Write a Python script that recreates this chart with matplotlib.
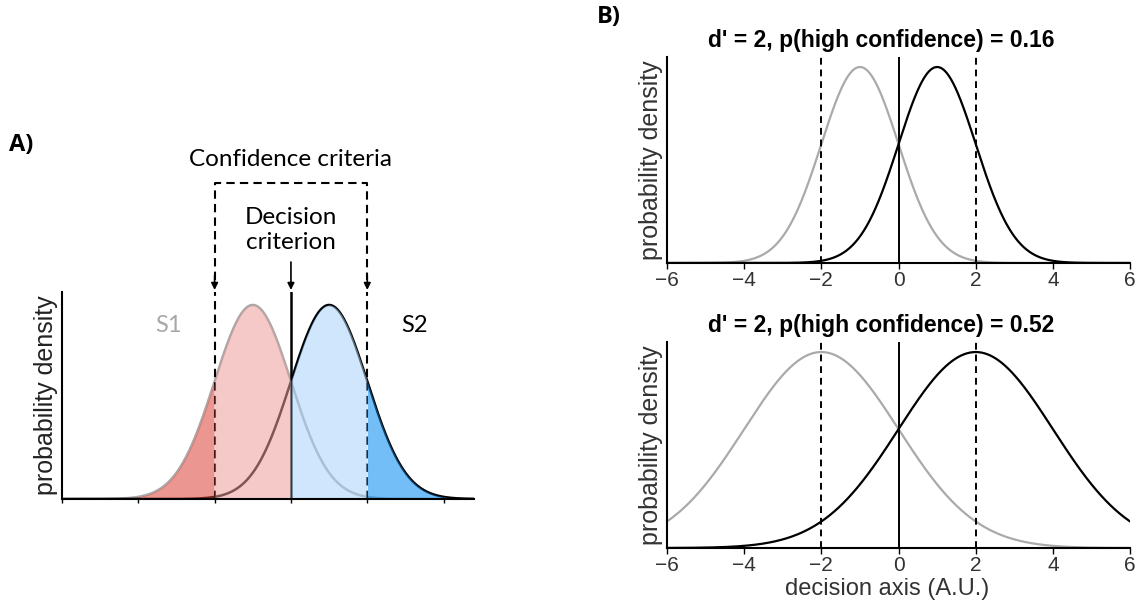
import matplotlib.pyplot as plt
import numpy as np

# panel A: schematic with one decision criterion and two confidence criteria
a_means = [-0.5, 0.5]
a_sd = 0.5
a_decision = 0.0
a_conf = [-1.0, 1.0]
a_ticks = [-3, -2, -1, 0, 1, 2]
a_labels = ["S1", "S2"]

# panel B: same d', different noise -> different p(high confidence)
b_means = [[-1, 1], [-2, 2]]
b_sds = [1, 2]
b_conf = [-2, 2]
b_phigh = [0.16, 0.52]
b_ticks = [-6, -4, -2, 0, 2, 4, 6]


def gauss(x, m, s):
    return np.exp(-0.5 * ((x - m) / s) ** 2) / (s * np.sqrt(2 * np.pi))


plt.rcParams['font.family'] = ['Liberation Sans', 'DejaVu Sans']
fig = plt.figure(figsize=(11.45, 6.04), dpi=100)

# ---------- A ----------
axA = fig.add_axes([0.0541, 0.1738, 0.360, 0.3427])
x = np.linspace(-3, 2.4, 800)
s1 = gauss(x, a_means[0], a_sd)
s2 = gauss(x, a_means[1], a_sd)

axA.plot(x, s1, color='#a8a8a8', lw=1.8, zorder=1)
axA.plot(x, s2, color='black', lw=1.8, zorder=1)
axA.plot([a_decision, a_decision], [0, 1], color='black', lw=1.8,
         transform=axA.get_xaxis_transform(), zorder=1)
for c in a_conf:
    axA.plot([c, c], [0, 1], color='black', lw=1.5, ls=(0, (4, 2.5)),
             transform=axA.get_xaxis_transform(), zorder=1)

fa = 0.55
axA.fill_between(x, 0, s1, where=x <= a_conf[0], color='#db4037', alpha=fa, lw=0, zorder=2)
axA.fill_between(x, 0, s1, where=(x >= a_conf[0]) & (x <= a_decision),
                 color='#eb9d99', alpha=fa, lw=0, zorder=2)
axA.fill_between(x, 0, s2, where=(x >= a_decision) & (x <= a_conf[1]),
                 color='#aad3fa', alpha=fa, lw=0, zorder=2)
axA.fill_between(x, 0, s2, where=x >= a_conf[1], color='#0089f2', alpha=fa, lw=0, zorder=2)

axA.set_xlim(-3, 2.4)
axA.set_ylim(0, 0.851)
axA.set_xticks(a_ticks)
axA.set_xticklabels([])
axA.set_yticks([])
axA.tick_params(axis='x', direction='out', length=3, width=1)
for sp in ['top', 'right']:
    axA.spines[sp].set_visible(False)
for sp in ['left', 'bottom']:
    axA.spines[sp].set_linewidth(1.5)
axA.set_ylabel('probability density', fontsize=18, color='#222222', labelpad=3)

lab_font = ['Lato', 'DejaVu Sans']
tr = axA.get_xaxis_transform()
axA.text(-1.6, 0.84, a_labels[0], color='#a8a8a8', fontsize=17, family=lab_font,
         ha='center', va='center', transform=tr)
axA.text(1.62, 0.84, a_labels[1], color='black', fontsize=17, family=lab_font,
         ha='center', va='center', transform=tr)

# annotation bracket above the axes
ytop = 1.527
axA.plot([a_conf[0], a_conf[0], a_conf[1], a_conf[1]], [1.06, ytop, ytop, 1.06],
         color='black', lw=1.5, ls=(0, (4, 2.5)), transform=tr, clip_on=False)
for c in a_conf:
    axA.annotate('', xy=(c, 1.01), xytext=(c, 1.08), xycoords=tr, textcoords=tr,
                 arrowprops=dict(arrowstyle='-|>', color='black', lw=1.2,
                                 mutation_scale=10, shrinkA=0, shrinkB=0))
axA.annotate('', xy=(a_decision, 1.01), xytext=(a_decision, 1.145), xycoords=tr,
             textcoords=tr, arrowprops=dict(arrowstyle='-|>', color='black', lw=1.2,
                                            mutation_scale=10, shrinkA=0, shrinkB=0))
axA.text(a_decision, 1.64, 'Confidence criteria', fontsize=17.5, family=lab_font,
         ha='center', va='center', transform=tr)
axA.text(a_decision, 1.30, 'Decision\ncriterion', fontsize=17.5, family=lab_font,
         ha='center', va='center', linespacing=1.25, transform=tr)

fig.text(0.008, 0.76, 'A)', fontsize=17, fontweight='bold', family=['Open Sans', 'DejaVu Sans'],
         va='center', ha='left')
fig.text(0.521, 0.972, 'B)', fontsize=17, fontweight='bold', family=['Open Sans', 'DejaVu Sans'],
         va='center', ha='left')

# ---------- B ----------
xb = np.linspace(-6, 6, 800)
for i, bottom in enumerate([0.5646, 0.0927]):
    ax = fig.add_axes([0.5825, bottom, 0.4045, 0.341])
    sd = b_sds[i]
    ax.plot(xb, gauss(xb, b_means[i][0], sd), color='#aaaaaa', lw=1.6)
    ax.plot(xb, gauss(xb, b_means[i][1], sd), color='black', lw=1.6)
    ax.axvline(0, color='black', lw=1.4)
    for c in b_conf:
        ax.axvline(c, color='black', lw=1.4, ls=(0, (3.5, 2.5)))
    peak = 1 / (sd * np.sqrt(2 * np.pi))
    ax.set_xlim(-6, 6)
    ax.set_ylim(0, peak * 206 / 196)
    ax.set_xticks(b_ticks)
    ax.set_xticklabels([f'\u2212{abs(t)}' if t < 0 else str(t) for t in b_ticks],
                       color='#333333')
    ax.set_yticks([])
    ax.tick_params(axis='x', direction='out', length=4, width=1, labelsize=15, pad=2)
    for sp in ['top', 'right']:
        ax.spines[sp].set_visible(False)
    for sp in ['left', 'bottom']:
        ax.spines[sp].set_linewidth(1.5)
    ax.set_ylabel('probability density', fontsize=18, color='#333333', labelpad=3)
    ax.set_title(f"d' = 2, p(high confidence) = {b_phigh[i]:.2f}", fontsize=16.5,
                 fontweight='bold', pad=7, x=0.463)
    if i == 1:
        ax.set_xlabel('decision axis (A.U.)', fontsize=17, color='#333333', labelpad=0)
        ax.xaxis.set_label_coords(0.475, -0.145)

fig.savefig('out.png', dpi=100)
